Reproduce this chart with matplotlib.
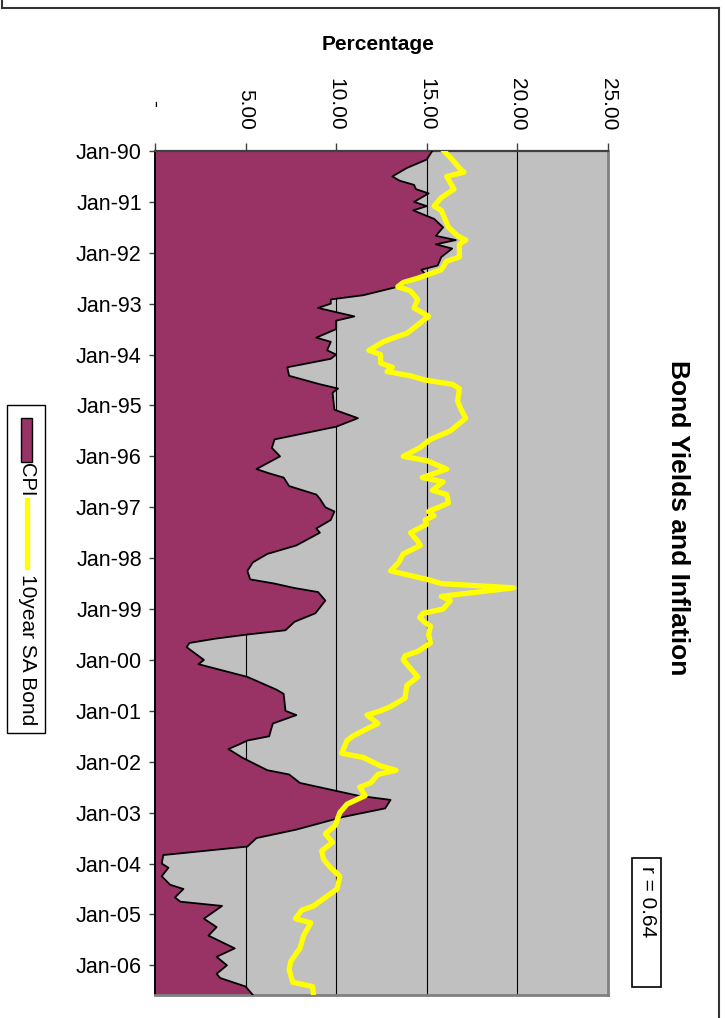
import matplotlib
matplotlib.use('Agg')
import matplotlib.pyplot as plt
import matplotlib.ticker as ticker
from matplotlib.patches import Rectangle
from matplotlib.lines import Line2D

plt.rcParams['font.family'] = ['Liberation Sans', 'DejaVu Sans']

# months since Jan-90, value in %
cpi_month = [0, 2, 4, 6, 7, 8, 9, 10, 12, 13, 14, 16, 18, 20, 21, 22, 23, 25, 27, 28, 29, 30,
             32, 34, 35, 36, 37, 39, 40, 42, 44, 45, 47, 48, 49, 51, 53, 55, 56, 57, 61, 63,
             65, 68, 70, 72, 75, 76, 77, 79, 81, 82, 84, 85, 87, 89, 90, 93, 95, 97, 99, 101,
             102, 103, 104, 106, 109, 111, 113, 114, 115, 116, 117, 120, 121, 124, 127, 128,
             132, 133, 135, 138, 139, 140, 141, 143, 146, 147, 149, 152, 153, 155, 157, 160,
             162, 164, 166, 168, 169, 171, 173, 174, 176, 177, 178, 181, 183, 185, 188, 190,
             192, 194, 195, 197, 199]
cpi_value = [15.3, 15.0, 13.9, 13.1, 13.5, 14.3, 14.4, 15.1, 14.3, 15.0, 14.25, 15.4, 15.9,
             15.5, 16.6, 15.5, 16.4, 15.8, 15.6, 14.7, 14.9, 14.5,
             13.4, 11.5, 9.7, 9.7, 9.0, 11.0, 10.0, 10.0, 8.9, 9.7, 9.5, 10.0, 9.7, 7.3, 7.4,
             9.1, 10.1, 9.8, 9.9, 11.2,
             10.0, 6.6, 6.45, 6.9, 5.6, 6.3, 7.1, 7.4, 8.9, 9.1, 9.4, 9.9, 9.7, 8.9, 9.1, 7.8,
             6.2, 5.4, 5.1, 5.25,
             6.6, 7.65, 9.0, 9.4, 8.85, 7.7, 7.2, 5.1, 3.3, 1.9, 1.75, 2.7, 2.4, 5.1, 6.7, 7.1,
             7.2, 7.8, 6.5, 6.3, 5.1, 4.6, 4.05, 4.8, 6.2, 7.4, 8.0, 11.2, 13.0, 12.7, 10.4, 7.8,
             5.6, 5.1, 0.46, 0.37, 0.74, 0.37, 0.83, 1.57, 1.1, 1.4, 3.7, 2.7, 3.4, 2.95, 4.4, 3.4,
             3.97, 3.4, 3.6, 5.0, 5.4]

bond_month = [0, 2, 4, 5, 6, 9, 11, 13, 14, 16, 18, 20, 21, 22, 25, 26, 28, 30, 31, 32, 33,
              35, 37, 39, 41, 43, 44, 45, 47, 48, 50, 51, 52, 53, 54, 55, 56, 59, 61, 63, 66,
              68, 70, 72, 73, 75, 77, 78, 80, 81, 83, 85, 86, 87, 88, 90, 92, 93, 95, 97, 99,
              101, 102, 103, 105, 106, 108, 109, 110, 111, 112, 114, 116, 118, 119, 120, 124,
              126, 129, 131, 132, 133, 135, 136, 138, 139, 141, 142, 143, 145, 146, 147, 149,
              150, 152, 154, 156, 159, 161, 163, 165, 167, 169, 171, 174, 176, 178, 179, 181,
              182, 185, 188, 191, 193, 196, 197, 199]
bond_value = [15.95, 16.4, 16.8, 17.05, 16.1, 16.5, 15.8, 15.4, 15.8, 16.0, 16.2, 16.7, 17.15,
              16.8, 16.8, 16.1, 15.8, 14.5, 13.7, 13.4, 14.1,
              14.5, 14.3, 15.1, 14.5, 13.9, 13.2, 12.6, 11.8, 12.45, 12.45, 13.1, 12.8, 14.1,
              14.9, 16.4, 16.8, 16.7, 16.9, 17.15, 16.3,
              15.2, 14.6, 13.7, 15.0, 16.1, 14.75, 15.9, 15.3, 16.1, 16.2, 15.1, 15.4, 14.9,
              15.0, 14.1, 14.5, 14.65, 13.7, 13.45, 13.0,
              15.0, 15.8, 19.8, 15.8, 16.3, 15.9, 14.8, 14.6, 14.85, 15.2, 15.1, 15.2, 14.5,
              13.8, 13.7, 14.5,
              13.9, 13.8, 13.0, 12.45, 11.7, 12.3, 11.8, 10.9, 10.6, 10.4, 10.3, 11.5, 12.45,
              13.3, 12.3, 11.9,
              11.3, 11.6, 10.6, 10.2, 9.95, 9.4, 9.8, 9.2, 9.3, 9.7, 10.2, 10.05, 9.4, 8.75,
              8.1, 7.75,
              8.6, 8.2, 8.0, 7.5, 7.4, 7.6, 8.7, 8.75]

date_ticks = list(range(0, 193, 12))
date_labels = ['Jan-%02d' % (y % 100) for y in range(1990, 2007)]
pct_ticks = [0, 5, 10, 15, 20, 25]
pct_labels = ['-    ', '5.00', '10.00', '15.00', '20.00', '25.00']

W, H = 725, 1018
fig = plt.figure(figsize=(W / 100, H / 100), dpi=100)
ax = fig.add_axes([155 / W, 1 - 995 / H, 453 / W, 844 / H])
ax.set_facecolor('#C0C0C0')

ax.fill_betweenx(cpi_month, 0, cpi_value, facecolor='#993366', edgecolor='none', zorder=2)
ax.plot(cpi_value, cpi_month, color='black', lw=1.3, zorder=3)
ax.plot(bond_value, bond_month, color='#FFFF00', lw=3.8, zorder=4, solid_joinstyle='round')

ax.set_xlim(0, 25)
ax.set_ylim(199, 0)
ax.xaxis.tick_top()
ax.set_xticks(pct_ticks)
ax.set_xticklabels(pct_labels, rotation=-90, fontsize=15)
ax.set_yticks(date_ticks)
ax.set_yticklabels(date_labels, fontsize=15.5)
ax.tick_params(axis='x', direction='out', length=6, width=1, color='#404040', pad=9)
ax.tick_params(axis='y', direction='out', length=4.5, width=1, color='#404040', pad=5)
ax.grid(axis='x', color='black', lw=0.8)
ax.set_axisbelow(True)

ax.spines['top'].set_color('#404040')
ax.spines['top'].set_linewidth(1.6)
ax.spines['left'].set_color('black')
ax.spines['left'].set_linewidth(1.4)
for s in ['right', 'bottom']:
    ax.spines[s].set_color('#808080')
    ax.spines[s].set_linewidth(2)

# titles
fig.text(378 / W, 1 - 44 / H, 'Percentage', ha='center', va='center', fontsize=15, fontweight='bold')
fig.text(678 / W, 1 - 518 / H, 'Bond Yields and Inflation', rotation=-90, ha='center', va='center',
         fontsize=19, fontweight='bold')

# r box
fig.add_artist(Rectangle((632 / W, 1 - 987 / H), 29 / W, 129 / H, transform=fig.transFigure,
                         facecolor='white', edgecolor='black', lw=1.2))
fig.text(647 / W, 1 - 902 / H, 'r = 0.64', rotation=-90, ha='center', va='center', fontsize=15)

# legend (rotated)
fig.add_artist(Rectangle((7 / W, 1 - 733 / H), 38 / W, 328 / H, transform=fig.transFigure,
                         facecolor='white', edgecolor='black', lw=1))
fig.add_artist(Rectangle((21 / W, 1 - 462 / H), 11 / W, 44 / H, transform=fig.transFigure,
                         facecolor='#993366', edgecolor='black', lw=1))
fig.text(27 / W, 1 - 480 / H, 'CPI', rotation=-90, ha='center', va='center', fontsize=14.5)
fig.add_artist(Line2D([27 / W, 27 / W], [1 - 500 / H, 1 - 567 / H], transform=fig.transFigure,
                      color='#FFFF00', lw=3.8))
fig.text(27 / W, 1 - 650 / H, '10year SA Bond', rotation=-90, ha='center', va='center', fontsize=15)

# outer frame
for xs, ys in [([1.5, 1.5], [0, 8]), ([1.5, 719], [8, 8]), ([719, 719], [8, H])]:
    fig.add_artist(Line2D([x / W for x in xs], [1 - y / H for y in ys], transform=fig.transFigure,
                          color='#333333', lw=1.5))

fig.savefig('out.png', dpi=100)
